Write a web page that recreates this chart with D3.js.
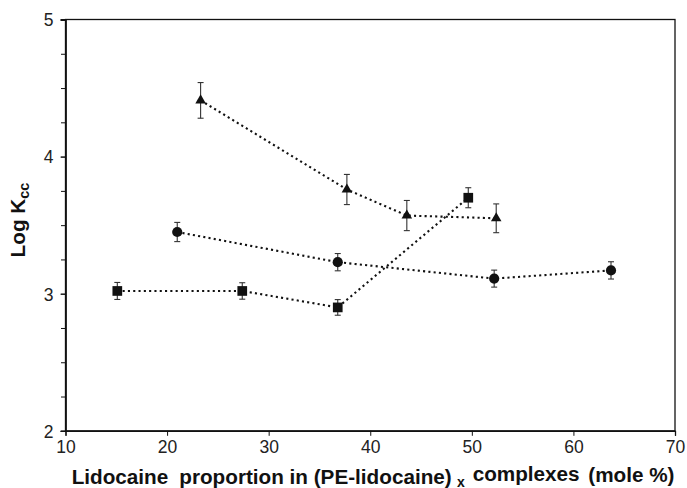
<!DOCTYPE html>
<html>
<head>
<meta charset="utf-8">
<script src="https://cdn.jsdelivr.net/npm/d3@7"></script>
<style>
  html, body { margin: 0; padding: 0; background: #fff; }
  svg { display: block; font-family: "Liberation Sans", Arial, Helvetica, sans-serif; }
</style>
</head>
<body>
<svg id="chart" width="687" height="488"></svg>
<script>
// Lidocaine proportion (mole %) and log Kcc with standard errors, one set per complex series
const triangleX = [23.3, 37.7, 43.6, 52.4];
const triangleY = [4.41, 3.76, 3.57, 3.55];
const triangleErr = [0.13, 0.11, 0.11, 0.105];

const circleX = [21.0, 36.8, 52.2, 63.7];
const circleY = [3.45, 3.23, 3.11, 3.17];
const circleErr = [0.07, 0.063, 0.062, 0.063];

const squareX = [15.1, 27.4, 36.8, 49.65];
const squareY = [3.02, 3.02, 2.90, 3.70];
const squareErr = [0.062, 0.06, 0.057, 0.073];

const xTicks = [10, 20, 30, 40, 50, 60, 70];
const yTicks = [2, 3, 4, 5];
const yMinorTicks = d3.range(2, 5.001, 0.25);

const svg = d3.select("#chart");
const plotLeft = 65.5, plotRight = 675, plotTop = 19.5, plotBottom = 430.8;

const x = d3.scaleLinear().domain([10, 70]).range([plotLeft, plotRight]);
const y = d3.scaleLinear().domain([2, 5]).range([plotBottom, plotTop]);

// frame
svg.append("rect")
  .attr("x", plotLeft).attr("y", plotTop)
  .attr("width", plotRight - plotLeft).attr("height", plotBottom - plotTop)
  .attr("fill", "none").attr("stroke", "#111").attr("stroke-width", 1.3);

// axes
const xAxis = svg.append("g")
  .attr("transform", `translate(0,${plotBottom})`)
  .call(d3.axisBottom(x).tickValues(xTicks).tickSize(5).tickPadding(5).tickFormat(d3.format("d")));
const yMinor = svg.append("g")
  .attr("transform", `translate(${plotLeft},0)`)
  .call(d3.axisLeft(y).tickValues(yMinorTicks).tickSize(4.5).tickFormat(""));
const yAxis = svg.append("g")
  .attr("transform", `translate(${plotLeft},0)`)
  .call(d3.axisLeft(y).tickValues(yTicks).tickSize(5).tickPadding(7).tickFormat(d3.format("d")));

[xAxis, yAxis, yMinor].forEach(g => {
  g.select(".domain").attr("stroke", "#111").attr("stroke-width", 1.3);
  g.selectAll(".tick line").attr("stroke", "#111").attr("stroke-width", 1);
  g.selectAll(".tick text")
    .attr("fill", "#222")
    .style("font-size", "17.5px")
    .style("font-family", "'Liberation Sans', Arial, sans-serif");
});
yAxis.selectAll(".tick text").attr("dy", "0.36em");

const series = [
  { xs: triangleX, ys: triangleY, es: triangleErr, symbol: d3.symbolTriangle, size: 48 },
  { xs: circleX, ys: circleY, es: circleErr, symbol: d3.symbolCircle, size: 82 },
  { xs: squareX, ys: squareY, es: squareErr, symbol: d3.symbolSquare, size: 94 }
];

const line = d3.line().x(d => x(d[0])).y(d => y(d[1]));

// dotted connecting lines
series.forEach(s => {
  const pts = s.xs.map((v, i) => [v, s.ys[i]]);
  svg.append("path")
    .datum(pts)
    .attr("d", line)
    .attr("fill", "none")
    .attr("stroke", "#111")
    .attr("stroke-width", 2.1)
    .attr("stroke-dasharray", "2.1 3.2");
});

// error bars with caps
series.forEach(s => {
  const g = svg.append("g").attr("stroke", "#333").attr("stroke-width", 1.1);
  s.xs.forEach((v, i) => {
    const cx = x(v), y1 = y(s.ys[i] + s.es[i]), y2 = y(s.ys[i] - s.es[i]);
    g.append("line").attr("x1", cx).attr("x2", cx).attr("y1", y1).attr("y2", y2);
    g.append("line").attr("x1", cx - 3).attr("x2", cx + 3).attr("y1", y1).attr("y2", y1);
    g.append("line").attr("x1", cx - 3).attr("x2", cx + 3).attr("y1", y2).attr("y2", y2);
  });
});

// markers
series.forEach(s => {
  const sym = d3.symbol().type(s.symbol).size(s.size);
  s.xs.forEach((v, i) => {
    svg.append("path")
      .attr("d", sym())
      .attr("transform", `translate(${x(v)},${y(s.ys[i])})`)
      .attr("fill", "#111");
  });
});

// y-axis title
const yTitle = svg.append("text")
  .attr("transform", "translate(25,220) rotate(-90)")
  .attr("text-anchor", "middle")
  .attr("font-weight", "bold")
  .attr("font-size", 20.7)
  .attr("fill", "#111");
yTitle.append("tspan").text("Log K");
yTitle.append("tspan").attr("font-size", 14.5).attr("dy", 4).text("cc");

// x-axis title pieces
const xt = svg.append("g").attr("font-weight", "bold").attr("fill", "#111").attr("font-size", 20.7);
xt.append("text").attr("x", 71.7).attr("y", 484).text("Lidocaine");
xt.append("text").attr("x", 179.3).attr("y", 484).text("proportion in (PE-lidocaine)");
xt.append("text").attr("x", 457).attr("y", 486.5).attr("font-size", 14).text("x");
xt.append("text").attr("x", 472.7).attr("y", 480.5).text("complexes");
xt.append("text").attr("x", 588.3).attr("y", 481.5).text("(mole %)");
</script>
</body>
</html>
